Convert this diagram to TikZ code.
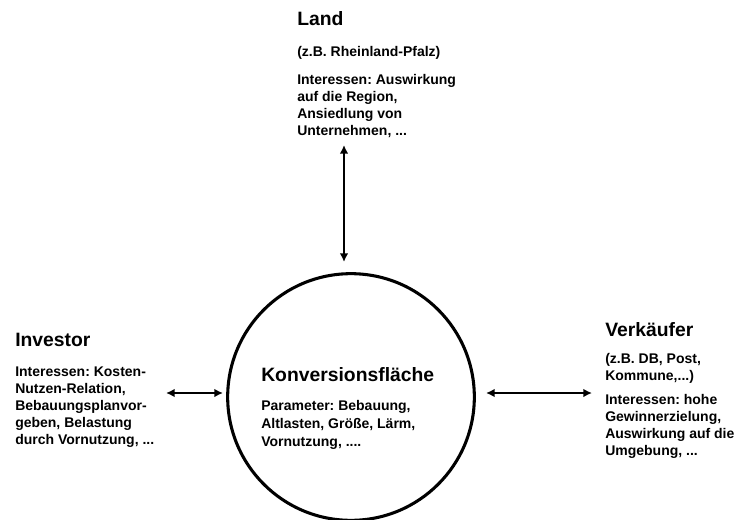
\documentclass[tikz,border=0pt]{standalone}
\usepackage{fontspec}
\setmainfont{Liberation Sans}
\usetikzlibrary{arrows.meta}
\frenchspacing
\begin{document}
\begin{tikzpicture}[x=0.75pt,y=-0.75pt,
  title/.style={font=\fontsize{14.5}{17}\selectfont\bfseries, anchor=base west, inner sep=0pt},
  body/.style={font=\fontsize{10.5}{12.75}\selectfont\bfseries, anchor=base west, inner sep=0pt, align=left},
  link/.style={line width=1.6pt, {Latex[length=6.5pt,width=6.5pt]}-{Latex[length=6.5pt,width=6.5pt]}}]
\useasboundingbox (0,0) rectangle (734,520);
\node[draw, circle, line width=2.3pt, minimum size=185pt, inner sep=0pt] (conv) at (351,397) {};
% Land (multi-line nodes are placed by the baseline of their last line)
\node[title] (landT) at (297,26) {Land};
\node[body] (landS) at (297,57) {(z.B. Rheinland-Pfalz)};
\node[body] (landI) at (297,136) {Interessen: Auswirkung\\auf die Region,\\Ansiedlung von\\Unternehmen, ...};
% Konversionsflaeche
\node[title] (convT) at (261,381) {Konversionsfläche};
\node[body, font=\fontsize{10.5}{13.5}\selectfont\bfseries] (convP) at (261,446) {Parameter: Bebauung,\\Altlasten, Größe, Lärm,\\Vornutzung, ....};
% Investor
\node[title] (invT) at (15,346) {Investor};
\node[body] (invI) at (15,444) {Interessen: Kosten-\\Nutzen-Relation,\\Bebauungsplanvor-\\geben, Belastung\\durch Vornutzung, ...};
% Verkaeufer
\node[title] (verT) at (605,336) {Verkäufer};
\node[body] (verS) at (605,380) {(z.B. DB, Post,\\Kommune,...)};
\node[body] (verI) at (605,455) {Interessen: hohe\\Gewinnerzielung,\\Auswirkung auf die\\Umgebung, ...};
% arrow ends
\coordinate (landEnd) at (344,145);
\coordinate (convTop) at (344,262);
\coordinate (invEnd) at (166,393);
\coordinate (convLeft) at (223,393);
\coordinate (convRight) at (486,393);
\coordinate (verEnd) at (592,393);
\draw[link] (landEnd) -- (convTop);
\draw[link] (invEnd) -- (convLeft);
\draw[link] (convRight) -- (verEnd);
\end{tikzpicture}
\end{document}
